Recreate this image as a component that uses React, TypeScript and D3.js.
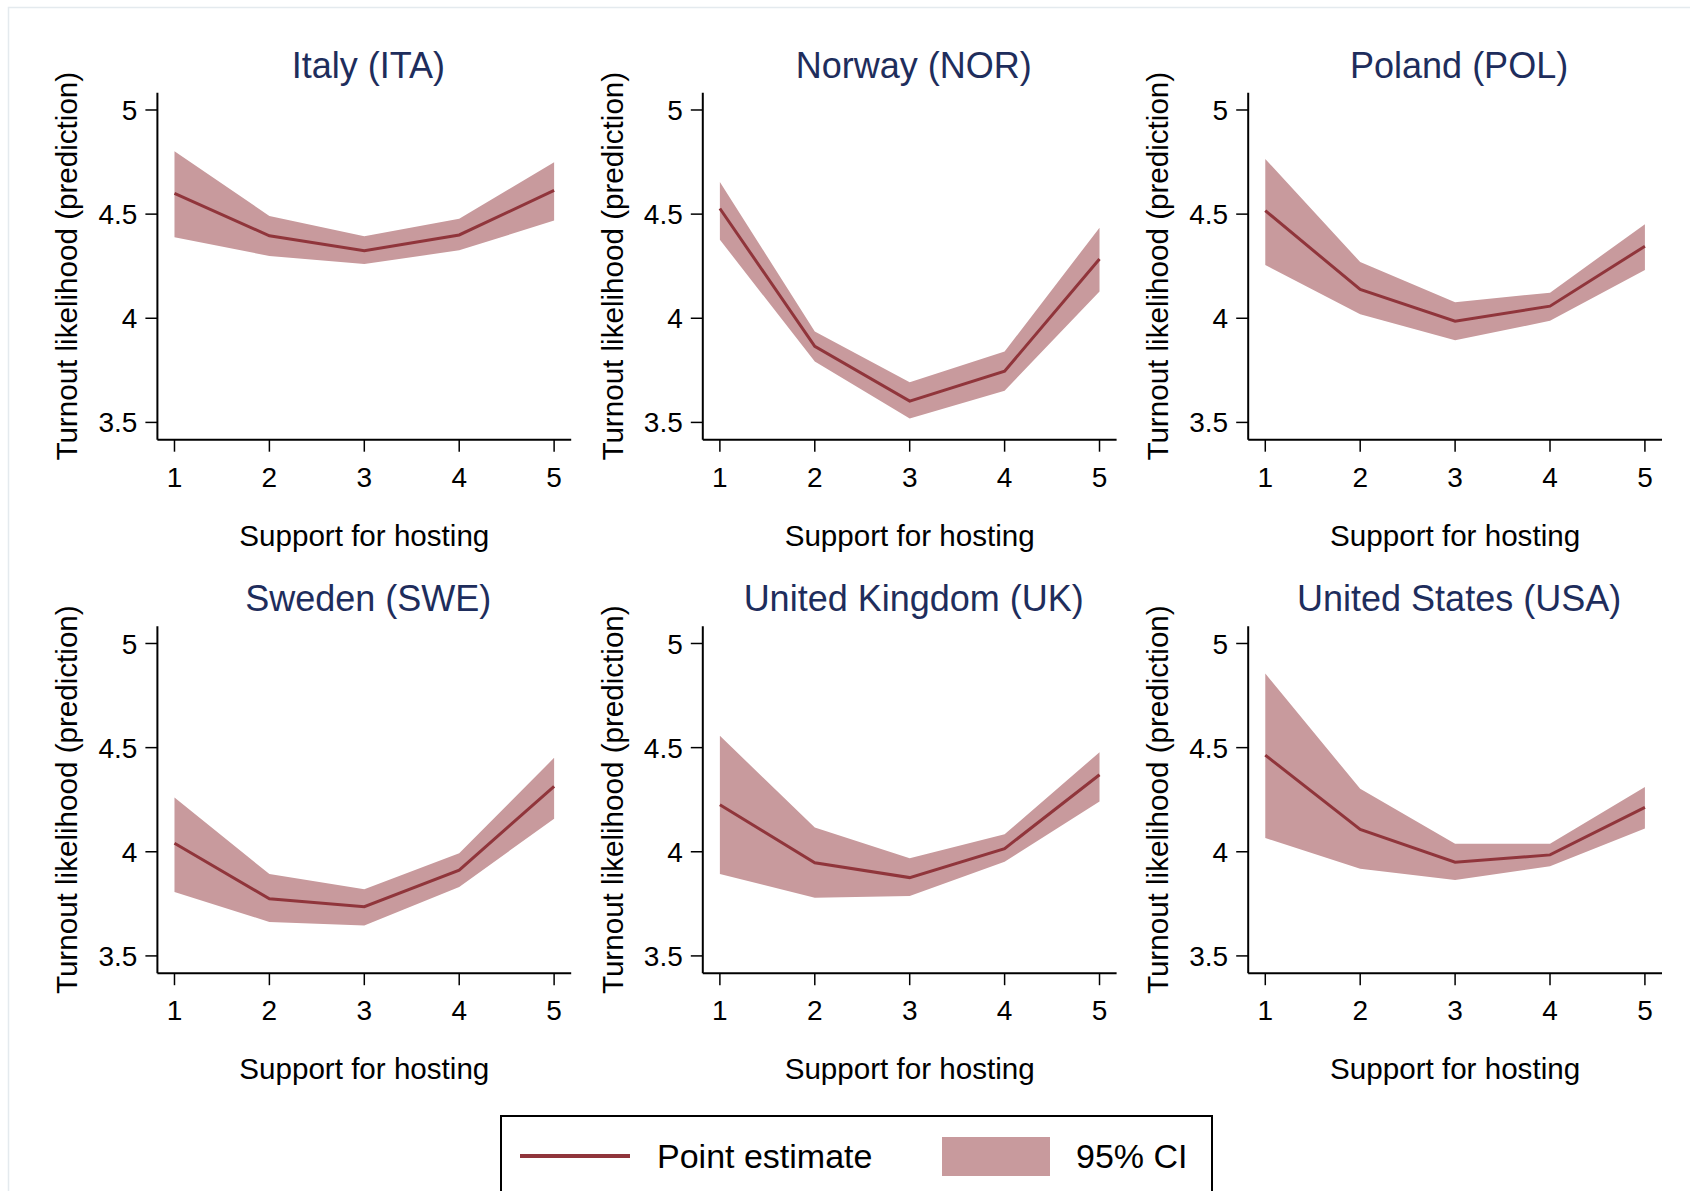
import * as d3 from "d3";

// support for hosting levels on the x axis
const supportLevels = [1, 2, 3, 4, 5];
const yTicks = [3.5, 4, 4.5, 5];

const countryNames = [
  "Italy (ITA)",
  "Norway (NOR)",
  "Poland (POL)",
  "Sweden (SWE)",
  "United Kingdom (UK)",
  "United States (USA)",
];

// point estimates and 95% CI bounds
const itaEst = [4.6, 4.396, 4.324, 4.4, 4.614];
const itaLo = [4.389, 4.299, 4.261, 4.326, 4.469];
const itaHi = [4.802, 4.491, 4.394, 4.478, 4.749];

const norEst = [4.527, 3.865, 3.602, 3.746, 4.285];
const norLo = [4.377, 3.792, 3.519, 3.652, 4.128];
const norHi = [4.654, 3.937, 3.693, 3.84, 4.435];

const polEst = [4.517, 4.138, 3.986, 4.058, 4.346];
const polLo = [4.256, 4.019, 3.894, 3.988, 4.232];
const polHi = [4.765, 4.27, 4.077, 4.123, 4.452];

const sweEst = [4.041, 3.774, 3.736, 3.912, 4.314];
const sweLo = [3.807, 3.663, 3.646, 3.831, 4.159];
const sweHi = [4.261, 3.893, 3.82, 3.993, 4.451];

const ukEst = [4.226, 3.947, 3.876, 4.015, 4.37];
const ukLo = [3.893, 3.779, 3.788, 3.952, 4.241];
const ukHi = [4.557, 4.116, 3.969, 4.084, 4.478];

const usaEst = [4.464, 4.107, 3.95, 3.985, 4.213];
const usaLo = [4.066, 3.919, 3.864, 3.931, 4.112];
const usaHi = [4.856, 4.302, 4.038, 4.038, 4.311];

const estimates = [itaEst, norEst, polEst, sweEst, ukEst, usaEst];
const lowers = [itaLo, norLo, polLo, sweLo, ukLo, usaLo];
const uppers = [itaHi, norHi, polHi, sweHi, ukHi, usaHi];

const W = 1690;
const H = 1191;
const FONT = "'Liberation Sans', Arial, Helvetica, sans-serif";
const LINE = "#90353b";
const FILL = "#c89a9d";
const TITLE = "#1e2d5c";

const plotLeft = 157.4;
const colStep = 545.4;
const plotTop = 92.7;
const rowStep = 533.5;
const plotW = 413.8;
const plotH = 347;

type Pt = { x: number; est: number; lo: number; hi: number };

const Panel = ({ idx }: { idx: number }) => {
  const col = idx % 3;
  const row = Math.floor(idx / 3);
  const left = plotLeft + col * colStep;
  const top = plotTop + row * rowStep;

  const x = d3.scaleLinear().domain([0.82, 5.18]).range([left, left + plotW]);
  const y = d3.scaleLinear().domain([3.417, 5.083]).range([top + plotH, top]);

  const pts: Pt[] = supportLevels.map((s, i) => ({
    x: s,
    est: estimates[idx][i],
    lo: lowers[idx][i],
    hi: uppers[idx][i],
  }));

  const area = d3
    .area<Pt>()
    .x((d) => x(d.x))
    .y0((d) => y(d.lo))
    .y1((d) => y(d.hi));
  const line = d3
    .line<Pt>()
    .x((d) => x(d.x))
    .y((d) => y(d.est));

  const bottom = top + plotH;
  const midX = left + plotW / 2;

  return (
    <g>
      <text
        x={midX + 4}
        y={top - 15}
        textAnchor="middle"
        fontSize={36}
        fill={TITLE}
        fontFamily={FONT}
      >
        {countryNames[idx]}
      </text>

      <path d={area(pts) || ""} fill={FILL} />
      <path d={line(pts) || ""} fill="none" stroke={LINE} strokeWidth={3} />

      {/* y axis */}
      <line x1={left} x2={left} y1={top} y2={bottom} stroke="#000" strokeWidth={2} />
      {yTicks.map((t) => (
        <g key={t}>
          <line x1={left - 12} x2={left} y1={y(t)} y2={y(t)} stroke="#000" strokeWidth={1.5} />
          <text
            x={left - 20}
            y={y(t)}
            dy="0.36em"
            textAnchor="end"
            fontSize={28}
            fontFamily={FONT}
            fill="#000"
          >
            {String(t)}
          </text>
        </g>
      ))}
      <text
        transform={`translate(${left - 80},${top + plotH / 2}) rotate(-90)`}
        textAnchor="middle"
        fontSize={29.6}
        fontFamily={FONT}
        fill="#000"
      >
        Turnout likelihood (prediction)
      </text>

      {/* x axis */}
      <line x1={left} x2={left + plotW} y1={bottom} y2={bottom} stroke="#000" strokeWidth={2} />
      {supportLevels.map((s) => (
        <g key={s}>
          <line x1={x(s)} x2={x(s)} y1={bottom} y2={bottom + 12} stroke="#000" strokeWidth={1.5} />
          <text
            x={x(s)}
            y={bottom + 47}
            textAnchor="middle"
            fontSize={28}
            fontFamily={FONT}
            fill="#000"
          >
            {s}
          </text>
        </g>
      ))}
      <text
        x={midX}
        y={bottom + 106}
        textAnchor="middle"
        fontSize={29.6}
        fontFamily={FONT}
        fill="#000"
      >
        Support for hosting
      </text>
    </g>
  );
};

export default function App() {
  return (
    <svg
      width={W}
      height={H}
      style={{ position: "absolute", left: 0, top: 0, display: "block", background: "#fff" }}
    >
      <rect x={8.5} y={7.5} width={W} height={H} fill="#fff" stroke="#e4eaee" strokeWidth={1.5} />
      {countryNames.map((_, i) => (
        <Panel key={i} idx={i} />
      ))}

      {/* legend */}
      <rect x={501} y={1116} width={711} height={120} fill="#fff" stroke="#000" strokeWidth={2} />
      <line x1={520} x2={630} y1={1156} y2={1156} stroke={LINE} strokeWidth={4} />
      <text x={657} y={1168} fontSize={34} fontFamily={FONT} fill="#000">
        Point estimate
      </text>
      <rect x={942} y={1137} width={108} height={39} fill={FILL} />
      <text x={1076} y={1168} fontSize={34} fontFamily={FONT} fill="#000">
        95% CI
      </text>
    </svg>
  );
}
